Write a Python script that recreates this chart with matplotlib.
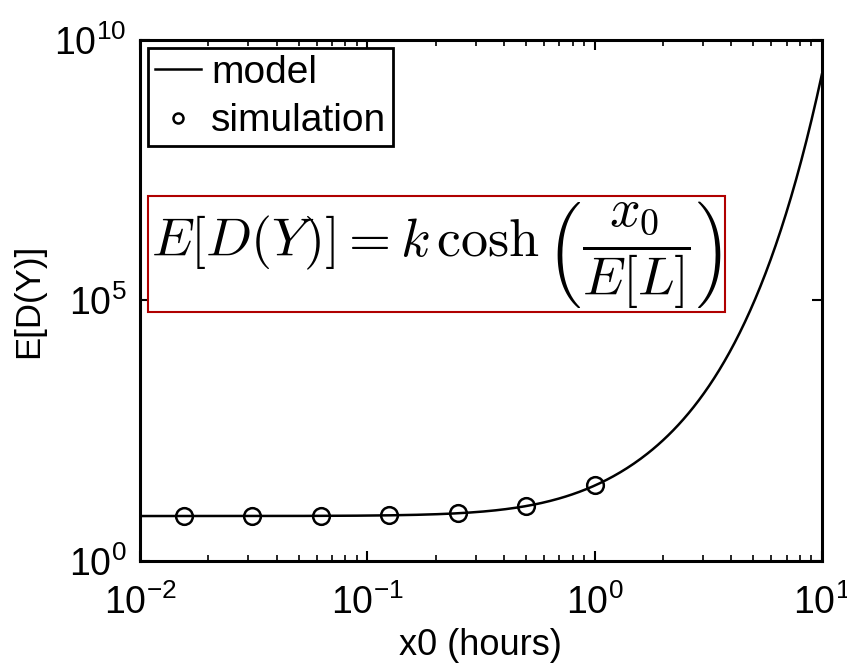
import numpy as np
import matplotlib
matplotlib.use("Agg")
import matplotlib.pyplot as plt
from matplotlib.ticker import NullLocator

plt.rcParams['font.family'] = ['Liberation Sans', 'DejaVu Sans']
plt.rcParams['mathtext.fontset'] = 'cm'

# simulated start positions (hours) and mean D(Y)
sim_x0 = [1/64, 1/32, 1/16, 1/8, 1/4, 1/2, 1.0]
sim_dy = [7.3, 7.3, 7.4, 7.5, 8.4, 11.4, 28.4]

# model constants: E[D(Y)] = k cosh(x0 / E[L])
k = 7.3
mean_L = 0.495
x_range = [1e-2, 1e1]

x = np.logspace(np.log10(x_range[0]), np.log10(x_range[1]), 400)
model = k * np.cosh(x / mean_L)

fig = plt.figure(figsize=(8.47, 6.63), dpi=100)
ax = fig.add_axes([0.1653, 0.1538, 0.805, 0.786])

ax.plot(x, model, color='black', lw=1.8, label='model')
ax.plot(sim_x0, sim_dy, 'o', mfc='none', mec='black', ms=12, mew=1.8,
        label='simulation')

ax.set_xscale('log')
ax.set_yscale('log')
ax.set_xlim(x_range)
ax.set_ylim(1e0, 1e10)
ax.set_yticks([1e0, 1e5, 1e10])
ax.yaxis.set_minor_locator(NullLocator())

for s in ax.spines.values():
    s.set_linewidth(2.2)
ax.tick_params(which='both', direction='in', top=True, right=True,
               labelsize=27)
ax.tick_params(axis='x', pad=17)
ax.tick_params(axis='y', pad=10)
ax.tick_params(which='major', length=7, width=1.5)
ax.tick_params(which='minor', length=4, width=1.2)

ax.set_xlabel('x0 (hours)', fontsize=26, labelpad=4)
ax.set_ylabel('E[D(Y)]', fontsize=25, labelpad=6)

leg = ax.legend(loc='upper left', fontsize=28, handlelength=1.2,
                handletextpad=0.25, borderpad=0.18, labelspacing=0.32,
                borderaxespad=0.2, fancybox=False, framealpha=1,
                markerscale=0.6)
leg.get_frame().set_edgecolor('black')
leg.get_frame().set_linewidth(2)

ax.text(0.435, 0.589,
        r'$E[D(Y)] = k\,\cosh\left(\dfrac{x_0}{E[L]}\right)$',
        transform=ax.transAxes, fontsize=39, va='center', ha='center',
        bbox=dict(boxstyle='square,pad=0.05', fc='white', ec='#b00000', lw=1.5))

fig.savefig('out.png', dpi=100)
